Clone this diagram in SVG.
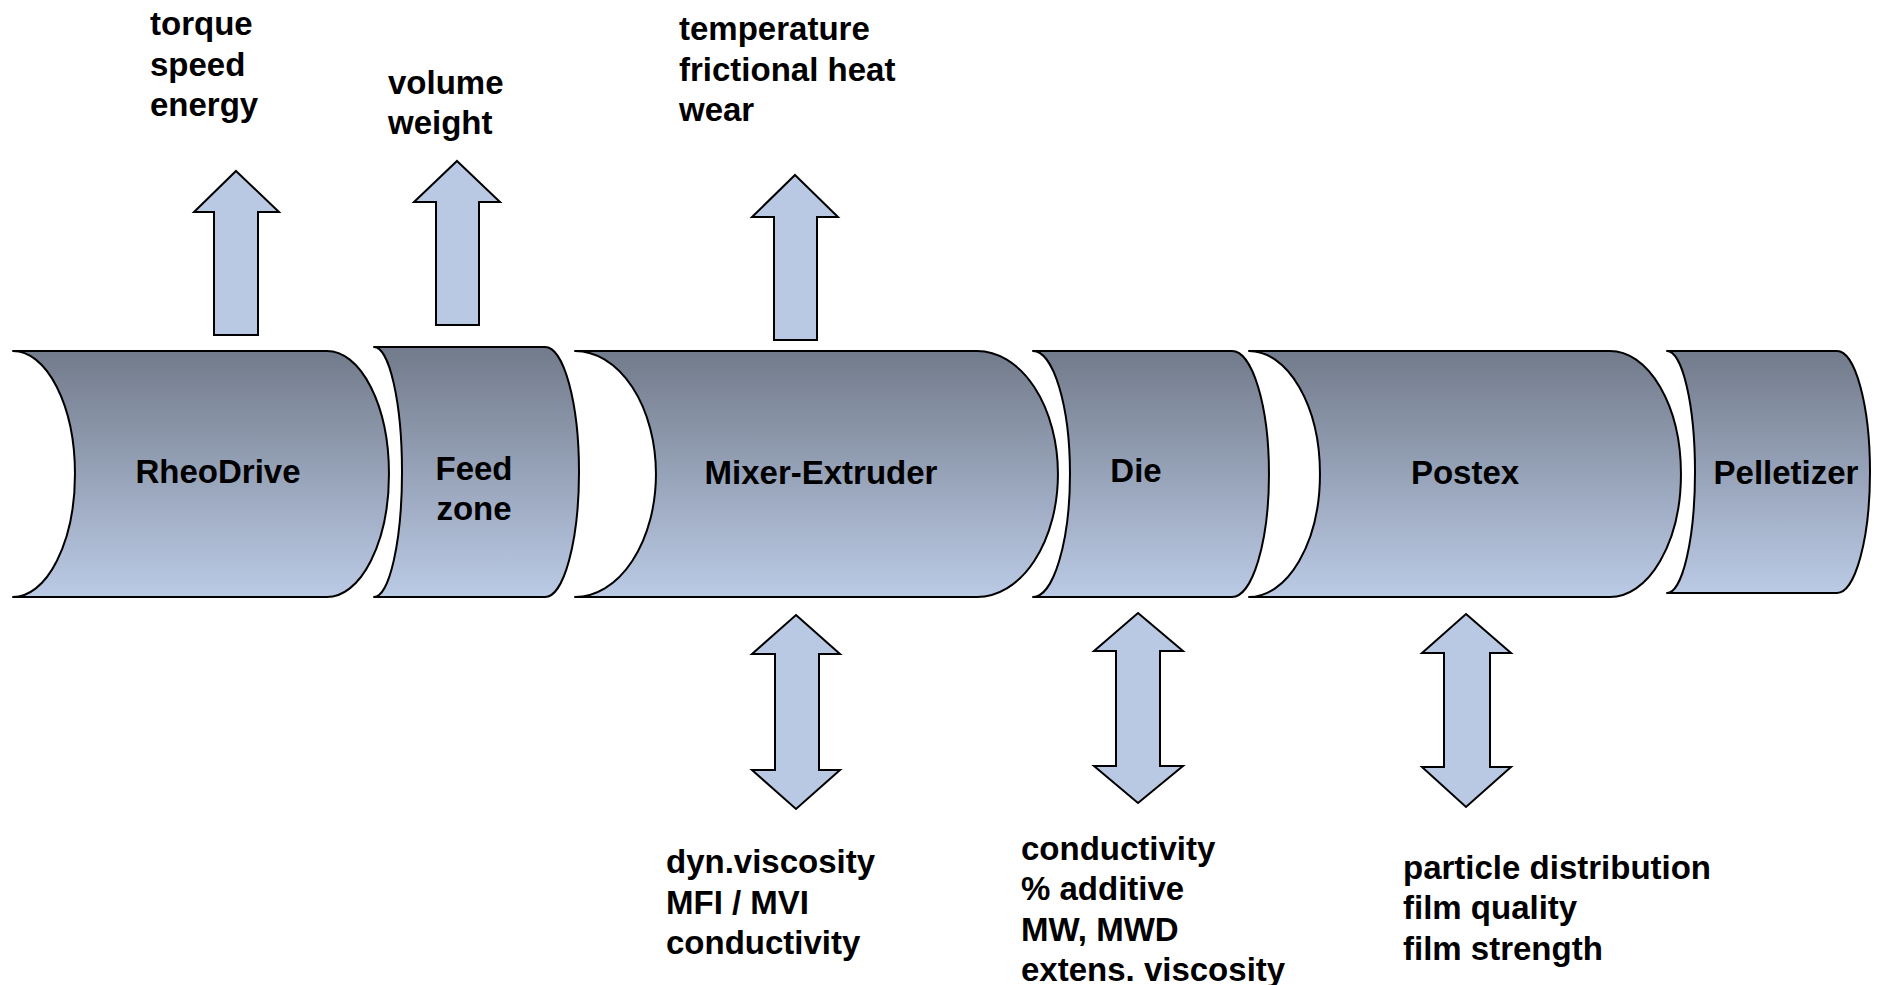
<svg xmlns="http://www.w3.org/2000/svg" width="1877" height="985" viewBox="0 0 1877 985">
<defs>
<linearGradient id="g" x1="0" y1="0" x2="0" y2="1">
<stop offset="0" stop-color="#727b8b"/>
<stop offset="1" stop-color="#bbcae5"/>
</linearGradient>
<style>
.s{fill:url(#g);stroke:#000;stroke-width:2;stroke-linejoin:round}
.a{fill:#b9c9e3;stroke:#000;stroke-width:2;stroke-linejoin:miter}
text{font-family:"Liberation Sans",Arial,sans-serif;font-weight:bold;font-size:33px;fill:#000}
.c{text-anchor:middle}
</style>
</defs>
<rect width="1877" height="985" fill="#fff"/>
<g id="nodes">
<g id="rheodrive">
<path class="s" d="M13,351 H327 A62,123 0 0 1 327,597 H13 A62,123 0 0 0 13,351 Z"/>
<text class="c" x="218" y="483">RheoDrive</text>
</g>
<g id="feedzone">
<path class="s" d="M374,347 H545 A34,125 0 0 1 545,597 H374 A28,125 0 0 0 374,347 Z"/>
<text class="c" x="474" y="480">Feed</text>
<text class="c" x="474" y="520">zone</text>
</g>
<g id="mixer">
<path class="s" d="M575,351 H977 A81,123 0 0 1 977,597 H575 A81,123 0 0 0 575,351 Z"/>
<text class="c" x="821" y="484">Mixer-Extruder</text>
</g>
<g id="die">
<path class="s" d="M1033,351 H1232 A37,123 0 0 1 1232,597 H1033 A37,123 0 0 0 1033,351 Z"/>
<text class="c" x="1136" y="482">Die</text>
</g>
<g id="postex">
<path class="s" d="M1249,351 H1610 A71,123 0 0 1 1610,597 H1249 A71,123 0 0 0 1249,351 Z"/>
<text class="c" x="1465" y="484">Postex</text>
</g>
<g id="pelletizer">
<path class="s" d="M1667,351 H1837 A33,121 0 0 1 1837,593 H1667 A28,121 0 0 0 1667,351 Z"/>
<text class="c" x="1786" y="484">Pelletizer</text>
</g>
</g>
<g id="connectors">
<polygon class="a" points="236,171 279,212 258,212 258,335 214,335 214,212 194,212"/>
<polygon class="a" points="457,161 500,202 479,202 479,325 436,325 436,202 414,202"/>
<polygon class="a" points="795,175 838,217 817,217 817,340 774,340 774,217 752,217"/>
<polygon class="a" points="796,615 840,654 819,654 819,770 840,770 796,809 752,770 775,770 775,654 752,654"/>
<polygon class="a" points="1138,613 1183,651 1160,651 1160,766 1183,766 1138,803 1094,766 1116,766 1116,651 1094,651"/>
<polygon class="a" points="1466,614 1511,653 1490,653 1490,767 1511,767 1466,807 1422,767 1444,767 1444,653 1422,653"/>
</g>
<g id="labels">
<text x="150" y="35">torque</text>
<text x="150" y="76">speed</text>
<text x="150" y="116">energy</text>
<text x="388" y="94">volume</text>
<text x="388" y="134">weight</text>
<text x="679" y="40">temperature</text>
<text x="679" y="81">frictional heat</text>
<text x="679" y="121">wear</text>
<text x="666" y="873">dyn.viscosity</text>
<text x="666" y="914">MFI / MVI</text>
<text x="666" y="954">conductivity</text>
<text x="1021" y="860">conductivity</text>
<text x="1021" y="900">% additive</text>
<text x="1021" y="941">MW, MWD</text>
<text x="1021" y="981">extens. viscosity</text>
<text x="1403" y="879">particle distribution</text>
<text x="1403" y="919">film quality</text>
<text x="1403" y="960">film strength</text>
</g>
</svg>
